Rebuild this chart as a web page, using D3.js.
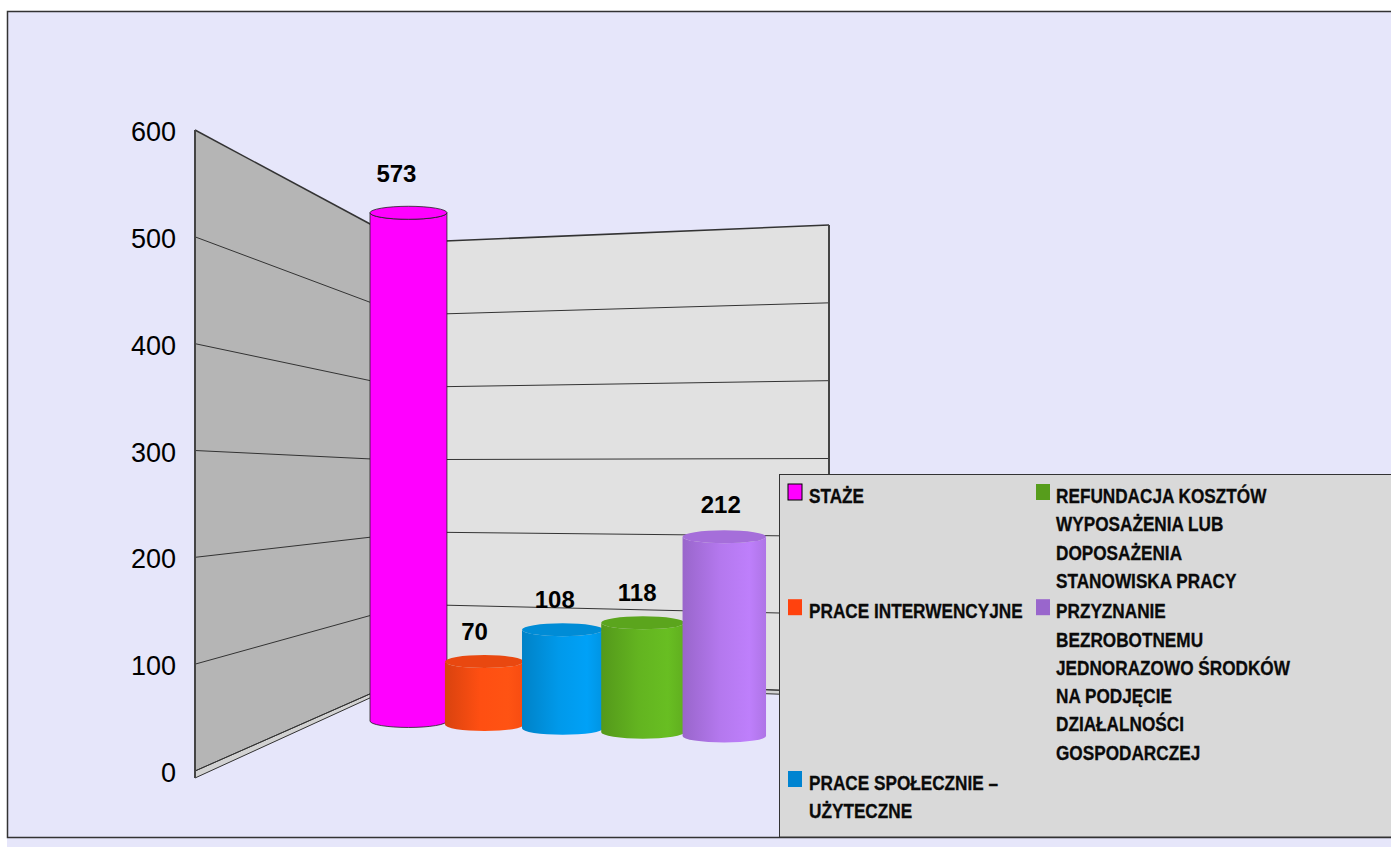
<!DOCTYPE html>
<html>
<head>
<meta charset="utf-8">
<script src="https://cdnjs.cloudflare.com/ajax/libs/d3/7.8.5/d3.min.js"></script>
<style>
  body { margin: 0; background: #ffffff; overflow: hidden; }
  svg { display: block; font-family: "Liberation Sans", Arial, sans-serif; }
</style>
</head>
<body>
<div id="chart"></div>
<script>
// data
var categories = ['STAŻE', 'PRACE INTERWENCYJNE', 'PRACE SPOŁECZNIE – UŻYTECZNE',
  'REFUNDACJA KOSZTÓW WYPOSAŻENIA LUB DOPOSAŻENIA STANOWISKA PRACY',
  'PRZYZNANIE BEZROBOTNEMU JEDNORAZOWO ŚRODKÓW NA PODJĘCIE DZIAŁALNOŚCI GOSPODARCZEJ'];
var values = [573, 70, 108, 118, 212];
var legendLines = [
  ['STAŻE'],
  ['PRACE INTERWENCYJNE'],
  ['PRACE SPOŁECZNIE –', 'UŻYTECZNE'],
  ['REFUNDACJA KOSZTÓW', 'WYPOSAŻENIA LUB', 'DOPOSAŻENIA', 'STANOWISKA PRACY'],
  ['PRZYZNANIE', 'BEZROBOTNEMU', 'JEDNORAZOWO ŚRODKÓW', 'NA PODJĘCIE', 'DZIAŁALNOŚCI', 'GOSPODARCZEJ']
];
var yTicks = [0, 100, 200, 300, 400, 500, 600];

var barColors = ['#ff00ff', '#ff4f12', '#0099ea', '#63b420', '#b478ee'];
var swatchColors = ['#ff00ff', '#ff420e', '#0084d1', '#579d1c', '#9966cc'];

var width = 1391, height = 847;
var svg = d3.select('#chart').append('svg')
  .attr('width', width)
  .attr('height', height);
var defs = svg.append('defs');

// background + frame
svg.append('rect').attr('x', 7).attr('y', 11).attr('width', width - 7).attr('height', height - 11)
  .attr('fill', '#e6e6fa');
svg.append('path')
  .attr('d', 'M' + (width + 2) + ',11.5 H7.5 V837.5 H' + (width + 2))
  .attr('fill', 'none').attr('stroke', '#333').attr('stroke-width', 1.5);

// perspective walls: each end of a wall has its own linear y scale
var leftWall = {
  x0: 195, x1: 372,
  y0: d3.scaleLinear().domain([0, 600]).range([771, 130]),
  y1: d3.scaleLinear().domain([0, 600]).range([693, 225]),
  floor0: 778, floor1: 697, fill: '#b5b5b5'
};
var backWall = {
  x0: 445, x1: 829,
  y0: d3.scaleLinear().domain([0, 600]).range([678, 241]),
  y1: d3.scaleLinear().domain([0, 600]).range([692, 225]),
  floor0: 682, floor1: 696, fill: '#e1e1e1'
};

function drawWall(w) {
  var g = svg.append('g');
  var top = 600;
  g.append('path')
    .attr('d', 'M' + w.x0 + ',' + w.y0(top) + ' L' + w.x1 + ',' + w.y1(top) +
      ' L' + w.x1 + ',' + w.floor1 + ' L' + w.x0 + ',' + w.floor0 + 'Z')
    .attr('fill', w.fill);
  // floor strip
  g.append('path')
    .attr('d', 'M' + w.x0 + ',' + w.y0(0) + ' L' + w.x1 + ',' + w.y1(0) +
      ' L' + w.x1 + ',' + w.floor1 + ' L' + w.x0 + ',' + w.floor0 + 'Z')
    .attr('fill', '#d2d2d2')
    .attr('stroke', '#333').attr('stroke-width', 1);
  g.selectAll('line.grid')
    .data(yTicks)
    .enter()
    .append('line')
    .attr('class', 'grid')
    .attr('x1', w.x0).attr('y1', d => w.y0(d))
    .attr('x2', w.x1).attr('y2', d => w.y1(d))
    .attr('stroke', '#333')
    .attr('stroke-width', d => d === 600 ? 1.5 : 1);
  return g;
}

var lw = drawWall(leftWall);
lw.append('line')
  .attr('x1', leftWall.x0).attr('y1', leftWall.y0(600))
  .attr('x2', leftWall.x0).attr('y2', leftWall.floor0)
  .attr('stroke', '#444').attr('stroke-width', 2);
var bw = drawWall(backWall);
bw.append('line')
  .attr('x1', backWall.x1).attr('y1', backWall.y1(600))
  .attr('x2', backWall.x1).attr('y2', backWall.floor1)
  .attr('stroke', '#444').attr('stroke-width', 2);

// y axis labels
svg.append('g').selectAll('text')
  .data(yTicks)
  .enter()
  .append('text')
  .attr('x', 176)
  .attr('y', d => leftWall.y0(d) + 2)
  .attr('text-anchor', 'end')
  .attr('dominant-baseline', 'central')
  .attr('font-size', 27)
  .attr('fill', '#000')
  .text(d => d);

// bars (cylinders) - band index mapped through a slight perspective stretch
var band = d3.scaleBand().domain(categories).range([0, categories.length]);
function persX(u) { return 370 + 73.87 * u + 1.067 * u * u; }
var floorY = d3.scaleLinear().domain([409, 724]).range([721, 736]);
var depthK = d3.scaleLinear().domain([409, 724]).range([0.887, 0.94]);
var labelShift = d3.scaleLinear().domain([409, 724]).range([-12, -3.5]);
var ry = 6.5;

categories.forEach(function(c, i) {
  var col = d3.color(barColors[i]);
  var gr = defs.append('linearGradient').attr('id', 'cyl' + i)
    .attr('x1', '0%').attr('x2', '100%').attr('y1', '0%').attr('y2', '0%');
  gr.append('stop').attr('offset', '0%').attr('stop-color', col.darker(0.45));
  gr.append('stop').attr('offset', '45%').attr('stop-color', col);
  gr.append('stop').attr('offset', '80%').attr('stop-color', col.brighter(0.15));
  gr.append('stop').attr('offset', '100%').attr('stop-color', col.darker(0.1));
});

var bars = svg.append('g').selectAll('g.bar')
  .data(values)
  .enter()
  .append('g')
  .attr('class', 'bar');

bars.each(function(v, i) {
  var g = d3.select(this);
  var u = band(categories[i]);
  var x0 = persX(u), x1 = persX(u + band.bandwidth());
  if (i < categories.length - 1) x1 += 2; // slight overlap, hidden by next bar
  var bwid = x1 - x0;
  var xc = x0 + bwid / 2;
  var rx = bwid / 2;
  var yb = floorY(xc);
  var yt = yb - v * depthK(xc);
  var pink = i === 0;
  g.append('path')
    .attr('d', 'M' + x0 + ',' + yt + ' L' + x0 + ',' + yb +
      ' A' + rx + ',' + ry + ' 0 0 0 ' + x1 + ',' + yb +
      ' L' + x1 + ',' + yt +
      ' A' + rx + ',' + ry + ' 0 0 1 ' + x0 + ',' + yt + 'Z')
    .attr('fill', pink ? barColors[i] : 'url(#cyl' + i + ')')
    .attr('stroke', pink ? '#222' : 'none')
    .attr('stroke-width', 0.8);
  g.append('ellipse')
    .attr('cx', xc).attr('cy', yt)
    .attr('rx', rx).attr('ry', ry)
    .attr('fill', pink ? barColors[i] : d3.color(barColors[i]).darker(0.25))
    .attr('stroke', pink ? '#222' : 'none')
    .attr('stroke-width', 0.8);
  g.append('text')
    .attr('x', xc + labelShift(xc))
    .attr('y', yb - v * (depthK(xc) + 0.018) - 20)
    .attr('text-anchor', 'middle')
    .attr('font-size', 24)
    .attr('font-weight', 'bold')
    .attr('fill', '#000')
    .text(v);
});

// legend
var legend = svg.append('g');
legend.append('rect')
  .attr('x', 779.5).attr('y', 474.5)
  .attr('width', width).attr('height', 362.5)
  .attr('fill', '#d9d9d9')
  .attr('stroke', '#333').attr('stroke-width', 1);

var lineH = 28.3, perRow = 3;
var colSwatchX = [788, 1036], colTextX = [809, 1056];
var rowLines = [0, 1, 2].map(r => d3.max(legendLines.filter((d, i) => i % perRow === r), d => d.length));
var rowBase = [503];
rowBase[1] = rowBase[0] + rowLines[0] * lineH + 2;
rowBase[2] = rowBase[1] + rowLines[1] * lineH + 2;

legendLines.forEach(function(lines, i) {
  var col = Math.floor(i / perRow), row = i % perRow;
  var by = rowBase[row];
  legend.append('rect')
    .attr('x', colSwatchX[col]).attr('y', by - 19)
    .attr('width', 14).attr('height', 16)
    .attr('fill', swatchColors[i])
    .attr('stroke', i === 0 ? '#000' : 'none')
    .attr('stroke-width', 1);
  lines.forEach(function(t, j) {
    legend.append('text')
      .attr('transform', 'translate(' + colTextX[col] + ',' + (by + j * lineH) + ') scale(0.86,1)')
      .attr('font-size', 20)
      .attr('font-weight', 'bold')
      .attr('fill', '#0a0a0a')
      .attr('stroke', '#0a0a0a')
      .attr('stroke-width', 0.3)
      .text(t);
  });
});
</script>
</body>
</html>
